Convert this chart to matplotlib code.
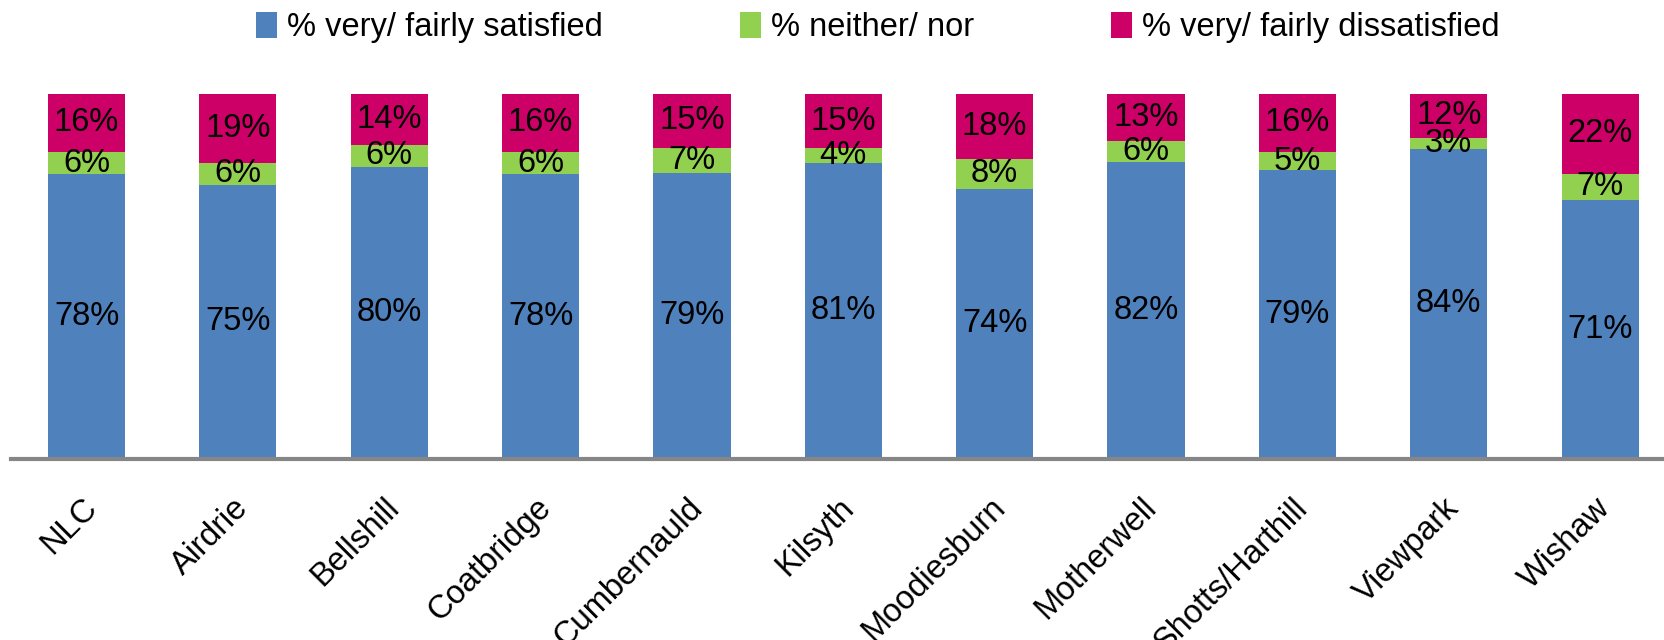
import numpy as np
import matplotlib.pyplot as plt
import matplotlib.transforms as mtransforms
from matplotlib.patches import Patch

plt.rcParams['font.family'] = ['Liberation Sans', 'DejaVu Sans']

areas = ['NLC', 'Airdrie', 'Bellshill', 'Coatbridge', 'Cumbernauld', 'Kilsyth',
         'Moodiesburn', 'Motherwell', 'Shotts/Harthill', 'Viewpark', 'Wishaw']
satisfied = [78, 75, 80, 78, 79, 81, 74, 82, 79, 84, 71]
neither = [6, 6, 6, 6, 7, 4, 8, 6, 5, 3, 7]
dissatisfied = [16, 19, 14, 16, 15, 15, 18, 13, 16, 12, 22]
series_names = ['% very/ fairly satisfied', '% neither/ nor', '% very/ fairly dissatisfied']
colors = ['#4F81BD', '#92D050', '#CC0066']

fs = 23.5

# 100% stacked, like the original Excel chart
data = np.array([satisfied, neither, dissatisfied], dtype=float)
shares = data / data.sum(axis=0) * 100

fig = plt.figure(figsize=(16.65, 6.4), dpi=100)
ax = fig.add_axes([0.0065, 0.2833, 1.0, 0.5703])

x = np.arange(len(areas))
bottom = np.zeros(len(areas))
for vals, share, col in zip(data, shares, colors):
    ax.bar(x, share, width=0.51, bottom=bottom, color=col, edgecolor='none')
    for xi, b, s, v in zip(x, bottom, share, vals):
        ax.text(xi, b + s / 2, f'{int(v)}%', ha='center', va='center', fontsize=fs, color='black')
    bottom += share

ax.set_xlim(-0.5, 10.5)
ax.set_ylim(0, 100)
for side in ['top', 'right', 'left']:
    ax.spines[side].set_visible(False)
ax.spines['bottom'].set_color('#868686')
ax.spines['bottom'].set_linewidth(3)
ax.set_yticks([])
ax.set_xticks(x)
ax.set_xticklabels(areas, rotation=45, ha='right', va='center', rotation_mode='anchor', fontsize=fs)
ax.tick_params(axis='x', length=0, pad=32)
shift = mtransforms.ScaledTranslation(0.055, 0, fig.dpi_scale_trans)
for lbl in ax.get_xticklabels():
    lbl.set_transform(lbl.get_transform() + shift)

handles = [Patch(facecolor=c, edgecolor='none') for c in colors]
fig.legend(handles, series_names, loc='center', bbox_to_anchor=(0.527, 0.957), ncol=3,
           frameon=False, fontsize=fs, handlelength=0.65, handleheight=0.83,
           handletextpad=0.3, columnspacing=4.2, borderaxespad=0)

fig.savefig('out.png', dpi=100)
